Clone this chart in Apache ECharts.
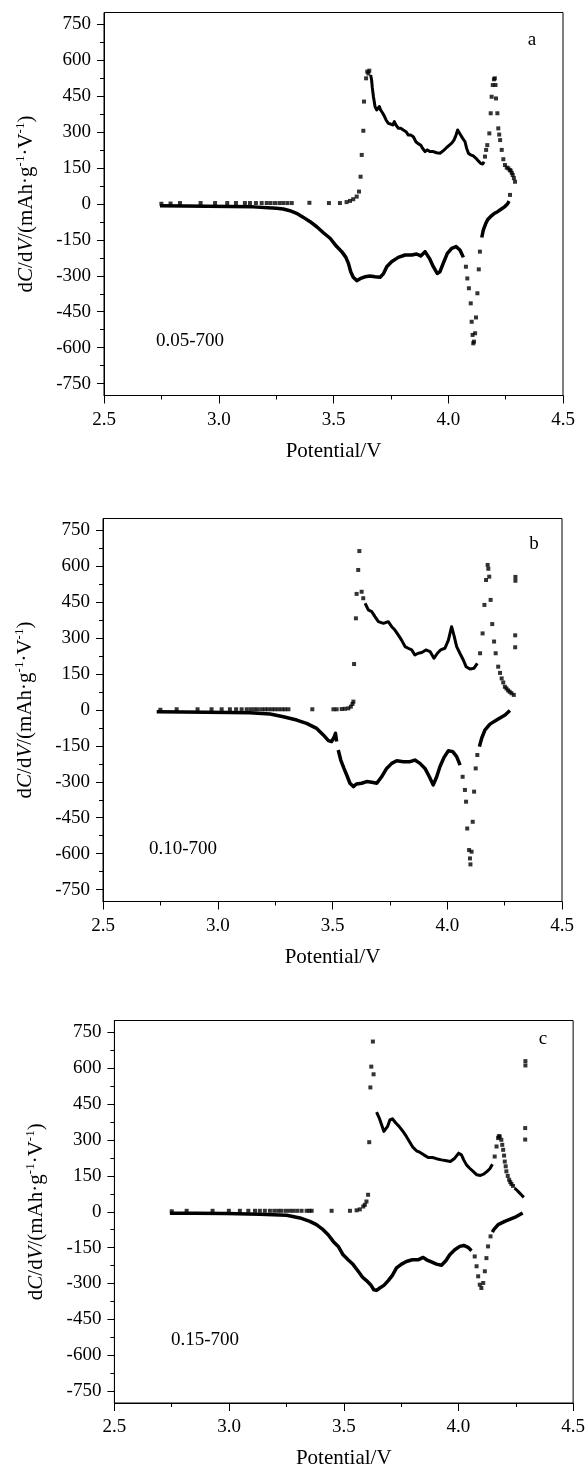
<!DOCTYPE html>
<html>
<head>
<meta charset="utf-8">
<script src="https://cdn.jsdelivr.net/npm/echarts@6/dist/echarts.min.js"></script>
<style>
  html, body { margin: 0; padding: 0; background: #fff; }
  #main { width: 588px; height: 1470px; }
</style>
</head>
<body>
<div id="main"></div>
<script>
// axis ticks
var xTicks = [2.5, 3.0, 3.5, 4.0, 4.5];
var yTicks = [-750, -600, -450, -300, -150, 0, 150, 300, 450, 600, 750];
var yMinor = [-675, -525, -375, -225, -75, 75, 225, 375, 525, 675];

// panel a : 0.05-700
var aChgDots = [[2.75,1],[2.79,2],[2.831,4],[2.921,4],[2.984,4],[3.037,4],[3.075,4],[3.114,4],[3.136,4],[3.162,4],[3.187,4],[3.209,4],[3.226,4],[3.245,4],[3.264,4],[3.281,4],[3.299,4],[3.318,4],[3.395,5],[3.480,4],[3.528,4],[3.557,8],[3.572,13],[3.586,20],[3.601,31],[3.611,52],[3.618,114],[3.623,205],[3.630,306],[3.633,428],[3.642,525],[3.647,553],[3.652,545],[3.656,557]];
var aChgTrace = [[3.662,539],[3.666,518],[3.669,487],[3.674,448],[3.681,407],[3.688,393],[3.700,407],[3.705,393],[3.714,380],[3.720,370],[3.729,351],[3.739,337],[3.749,334],[3.758,330],[3.765,344],[3.772,330],[3.783,316],[3.793,316],[3.804,309],[3.816,302],[3.826,288],[3.836,288],[3.848,281],[3.859,260],[3.870,251],[3.880,246],[3.888,233],[3.899,219],[3.909,226],[3.920,219],[3.935,219],[3.949,214],[3.964,212],[3.979,223],[3.990,233],[4.005,246],[4.015,254],[4.025,267],[4.034,288],[4.041,309],[4.048,302],[4.054,288],[4.063,274],[4.073,260],[4.080,233],[4.088,212],[4.098,205],[4.109,201],[4.121,191],[4.131,180],[4.141,170],[4.150,167],[4.156,177]];
var aChgPeak = [[4.160,198],[4.165,226],[4.170,246],[4.179,295],[4.185,379],[4.189,448],[4.194,497],[4.199,521],[4.203,525],[4.206,497],[4.208,441],[4.214,379],[4.218,316],[4.222,290],[4.226,267],[4.233,226],[4.240,187],[4.247,163],[4.255,152],[4.262,149],[4.268,142],[4.272,139],[4.277,130],[4.281,121],[4.286,108],[4.291,93]];
var aDisTrace = [[2.744,-7],[2.85,-8],[2.95,-9],[3.05,-10],[3.15,-12],[3.252,-18],[3.281,-21],[3.310,-28],[3.339,-39],[3.369,-56],[3.398,-74],[3.427,-95],[3.456,-120],[3.485,-143],[3.514,-178],[3.536,-199],[3.554,-223],[3.565,-248],[3.575,-283],[3.586,-306],[3.601,-320],[3.618,-311],[3.637,-304],[3.659,-301],[3.681,-304],[3.703,-306],[3.717,-292],[3.732,-262],[3.753,-241],[3.782,-223],[3.812,-213],[3.841,-213],[3.862,-209],[3.880,-217],[3.899,-199],[3.918,-227],[3.935,-262],[3.952,-290],[3.964,-283],[3.978,-248],[3.996,-206],[4.015,-185],[4.034,-178],[4.051,-192],[4.066,-223]];
var aDisDots = [[4.077,-262],[4.083,-311],[4.090,-352],[4.098,-415],[4.102,-492],[4.106,-547],[4.109,-582],[4.112,-575],[4.117,-540],[4.121,-474],[4.127,-373],[4.133,-273],[4.138,-199],[4.269,38]];
var aDisTail = [[4.146,-140],[4.153,-108],[4.162,-85],[4.172,-65],[4.185,-52],[4.200,-40],[4.215,-32],[4.230,-22],[4.245,-12],[4.258,0],[4.265,12]];

// panel b : 0.10-700
var bChgDots = [[2.75,1],[2.821,3],[2.912,3],[2.973,3],[3.017,3],[3.053,3],[3.080,3],[3.104,3],[3.126,3],[3.143,3],[3.159,3],[3.174,3],[3.191,3],[3.206,3],[3.220,3],[3.235,3],[3.249,3],[3.264,3],[3.279,3],[3.293,3],[3.308,3],[3.412,3],[3.504,3],[3.518,3],[3.540,4],[3.554,5],[3.569,7],[3.580,14],[3.587,25],[3.591,35],[3.594,192],[3.602,383],[3.605,485],[3.612,585],[3.617,664],[3.627,494],[3.634,467]];
var bChgTrace = [[3.642,446],[3.656,418],[3.671,411],[3.685,390],[3.700,369],[3.722,362],[3.743,369],[3.758,348],[3.772,334],[3.787,313],[3.801,292],[3.816,265],[3.830,258],[3.845,251],[3.859,230],[3.874,237],[3.889,240],[3.907,251],[3.925,244],[3.942,216],[3.957,237],[3.971,251],[3.990,258],[4.005,292],[4.019,348],[4.029,313],[4.041,265],[4.055,237],[4.070,209],[4.082,181],[4.099,171],[4.116,174],[4.131,195]];
var bChgPeak = [[4.143,237],[4.154,320],[4.162,439],[4.169,543],[4.176,606],[4.179,590],[4.183,557],[4.189,460],[4.196,359],[4.204,286],[4.211,237],[4.222,181],[4.230,155],[4.237,132],[4.244,115],[4.251,97],[4.258,90],[4.265,82],[4.272,76],[4.280,70],[4.290,63],[4.297,556],[4.297,540],[4.296,312],[4.296,262]];
var bDisTrace = [[2.734,-7],[2.85,-8],[2.95,-9],[3.05,-10],[3.140,-11],[3.228,-17],[3.286,-28],[3.344,-42],[3.387,-56],[3.431,-77],[3.460,-104],[3.482,-128],[3.496,-132],[3.508,-111],[3.513,-97],[3.518,-132]];
var bDisTrace2 = [[3.525,-167],[3.536,-209],[3.550,-244],[3.565,-279],[3.576,-306],[3.591,-320],[3.605,-309],[3.627,-306],[3.649,-299],[3.671,-302],[3.693,-306],[3.714,-279],[3.736,-244],[3.758,-223],[3.780,-212],[3.809,-216],[3.838,-216],[3.859,-209],[3.881,-223],[3.903,-244],[3.922,-279],[3.939,-313],[3.954,-279],[3.968,-237],[3.986,-198],[4.005,-170],[4.024,-174],[4.041,-195],[4.056,-230]];
var bDisDots = [[4.067,-279],[4.077,-334],[4.082,-383],[4.087,-495],[4.095,-585],[4.099,-620],[4.101,-645],[4.106,-592],[4.111,-467],[4.117,-341],[4.124,-244],[4.131,-188]];
var bDisTail = [[4.140,-153],[4.150,-118],[4.164,-84],[4.186,-59],[4.215,-42],[4.252,-21],[4.273,-2]];

// panel c : 0.15-700
var cChgDots = [[2.75,2],[2.815,4],[2.928,4],[2.999,4],[3.047,4],[3.084,4],[3.113,4],[3.134,4],[3.156,4],[3.178,4],[3.197,4],[3.214,4],[3.229,4],[3.248,4],[3.265,4],[3.280,4],[3.297,4],[3.316,4],[3.338,4],[3.350,4],[3.360,4],[3.447,4],[3.527,4],[3.556,6],[3.570,10],[3.585,22],[3.592,29],[3.599,43],[3.606,71],[3.611,291],[3.616,520],[3.620,607],[3.627,712],[3.630,575]];
var cChgTrace = [[3.643,417],[3.654,394],[3.665,364],[3.675,336],[3.683,329],[3.691,357],[3.701,384],[3.712,389],[3.727,371],[3.741,357],[3.756,339],[3.773,315],[3.788,291],[3.802,269],[3.817,255],[3.831,249],[3.849,238],[3.868,227],[3.887,227],[3.904,222],[3.926,217],[3.948,213],[3.965,210],[3.984,224],[4.001,245],[4.013,238],[4.023,217],[4.035,196],[4.049,182],[4.064,169],[4.079,155],[4.096,152],[4.110,157],[4.125,169],[4.137,180],[4.148,199]];
var cChgPeak = [[4.158,231],[4.166,273],[4.173,308],[4.176,316],[4.180,315],[4.187,301],[4.191,280],[4.195,259],[4.199,235],[4.202,210],[4.206,190],[4.209,169],[4.215,150],[4.221,134],[4.226,124],[4.231,116],[4.238,108],[4.292,630],[4.292,612],[4.291,350],[4.291,302]];
var cChgTail = [[4.245,99],[4.255,90],[4.265,80],[4.275,70],[4.285,60]];
var cDisTrace = [[2.742,-6],[2.85,-6],[2.989,-7],[3.134,-10],[3.251,-15],[3.309,-26],[3.352,-40],[3.381,-54],[3.410,-75],[3.432,-96],[3.454,-124],[3.476,-145],[3.497,-180],[3.519,-201],[3.541,-221],[3.563,-249],[3.582,-274],[3.599,-288],[3.617,-305],[3.631,-326],[3.643,-329],[3.657,-319],[3.675,-308],[3.694,-288],[3.712,-266],[3.730,-235],[3.752,-219],[3.773,-208],[3.799,-201],[3.824,-201],[3.846,-191],[3.861,-201],[3.882,-210],[3.904,-219],[3.926,-224],[3.945,-205],[3.962,-180],[3.984,-159],[4.006,-145],[4.023,-141],[4.042,-149],[4.057,-163]];
var cDisDots = [[4.071,-187],[4.079,-228],[4.086,-270],[4.093,-305],[4.100,-319],[4.108,-298],[4.115,-249],[4.122,-194],[4.129,-145],[4.140,-103]];
var cDisTail = [[4.148,-85],[4.154,-75],[4.173,-54],[4.202,-40],[4.245,-24],[4.280,-5]];

var serif = "'Liberation Serif', 'DejaVu Serif', serif";

// pixel boxes of the three plots
var boxes = [
    {left: 104, top: 12.5, width: 459, height: 383},
    {left: 103, top: 518.5, width: 459, height: 383},
    {left: 114.4, top: 1020.5, width: 459, height: 383}
];

function xAxisFor(i) {
    return {
        type: 'value', gridIndex: i, min: 2.5, max: 4.5, interval: 0.5,
        axisLine: {show: true, onZero: false, lineStyle: {color: '#000', width: 1}},
        axisTick: {show: true, length: 8, lineStyle: {color: '#000'}},
        minorTick: {show: true, splitNumber: 2, length: 4, lineStyle: {color: '#000'}},
        axisLabel: {customValues: xTicks, margin: 15, color: '#000', fontSize: 19, fontFamily: serif,
            formatter: function (v) { return v.toFixed(1); }},
        splitLine: {show: false},
        name: 'Potential/V', nameLocation: 'middle', nameGap: 45,
        nameTextStyle: {color: '#000', fontSize: 21, fontFamily: serif}
    };
}

function yAxisFor(i) {
    return {
        type: 'value', gridIndex: i, position: 'left', min: -800, max: 800,
        axisLine: {show: true, onZero: false, lineStyle: {color: '#000', width: 1}},
        axisTick: {show: true, length: 7, customValues: yTicks, lineStyle: {color: '#000'}},
        axisLabel: {customValues: yTicks, margin: 13, color: '#000', fontSize: 19, fontFamily: serif},
        splitLine: {show: false},
        name: '{n|d}{i|C}{n|/d}{i|V}{n|/(mAh·g}{s|-1}{n|·V}{s|-1}{n|)}',
        nameLocation: 'middle', nameGap: 66, nameRotate: 90,
        nameTextStyle: {
            color: '#000', fontSize: 21, fontFamily: serif, lineHeight: 24,
            rich: {
                n: {fontSize: 21, fontFamily: serif, color: '#000', lineHeight: 24},
                i: {fontSize: 21, fontFamily: serif, fontStyle: 'italic', color: '#000', lineHeight: 24},
                s: {fontSize: 13, fontFamily: serif, color: '#000', verticalAlign: 'top', lineHeight: 24, padding: [0, 0, 8, 0]}
            }
        }
    };
}

function yMinorFor(i) {
    return {
        type: 'value', gridIndex: i, position: 'left', min: -800, max: 800,
        axisLine: {show: false, onZero: false},
        axisTick: {show: true, length: 4, customValues: yMinor, lineStyle: {color: '#000'}},
        axisLabel: {show: false},
        splitLine: {show: false}
    };
}

function dots(data, g) {
    return {type: 'scatter', xAxisIndex: g, yAxisIndex: g, data: data, symbol: 'rect',
        symbolSize: 4, itemStyle: {color: '#000'}, silent: true};
}

function trace(data, g, w) {
    return {type: 'line', xAxisIndex: g, yAxisIndex: g, data: data, symbol: 'none',
        lineStyle: {color: '#000', width: w, join: 'round'}, silent: true};
}

function note(text, x, y, align) {
    return {type: 'text', x: x, y: y, style: {text: text, font: '19px ' + serif, fill: '#000',
        textAlign: align, align: align, textVerticalAlign: 'middle', verticalAlign: 'middle'}};
}

var grids = boxes.map(function (b) {
    return {left: b.left, top: b.top, width: b.width, height: b.height, show: true,
        borderColor: '#000', borderWidth: 1, backgroundColor: 'transparent'};
});

var option = {
    animation: false,
    backgroundColor: '#fff',
    grid: grids,
    xAxis: [xAxisFor(0), xAxisFor(1), xAxisFor(2)],
    yAxis: [yAxisFor(0), yAxisFor(1), yAxisFor(2), yMinorFor(0), yMinorFor(1), yMinorFor(2)],
    series: [
        dots(aChgDots, 0), trace(aChgTrace, 0, 3), dots(aChgPeak, 0),
        trace(aDisTrace, 0, 3.5), dots(aDisDots, 0), trace(aDisTail, 0, 3.5),
        dots(bChgDots, 1), trace(bChgTrace, 1, 3), dots(bChgPeak, 1),
        trace(bDisTrace, 1, 3.5), trace(bDisTrace2, 1, 3.5), dots(bDisDots, 1), trace(bDisTail, 1, 3.5),
        dots(cChgDots, 2), trace(cChgTrace, 2, 3), dots(cChgPeak, 2), trace(cChgTail, 2, 3),
        trace(cDisTrace, 2, 3.5), dots(cDisDots, 2), trace(cDisTail, 2, 3.5)
    ],
    graphic: [
        note('a', 532, 40, 'center'), note('0.05-700', 156, 341, 'left'),
        note('b', 534, 544, 'center'), note('0.10-700', 149, 849, 'left'),
        note('c', 543, 1039, 'center'), note('0.15-700', 171, 1340, 'left')
    ]
};

var chart = echarts.init(document.getElementById('main'));
chart.setOption(option);
</script>
</body>
</html>
